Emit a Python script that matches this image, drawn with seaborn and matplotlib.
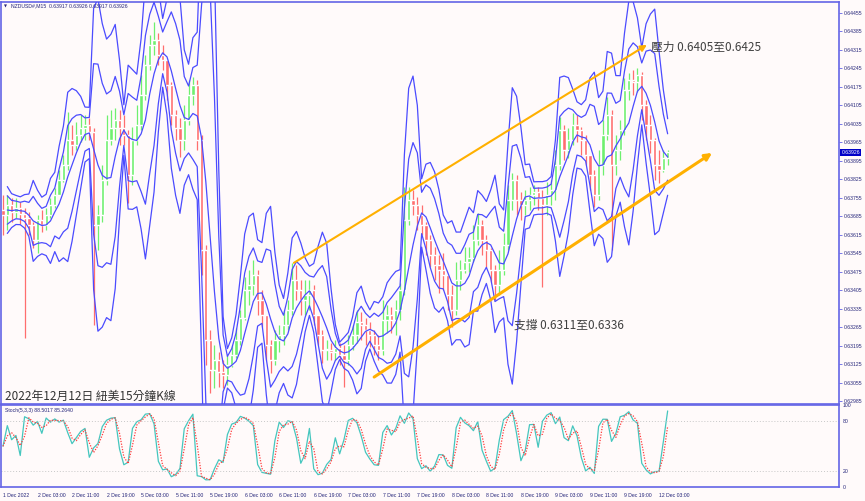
import numpy as np
import pandas as pd
import matplotlib
matplotlib.use("Agg")
import matplotlib.pyplot as plt
import matplotlib.transforms as mtransforms
import seaborn as sns

# --- DATA (hourly bars, prices in 1e-5) ---
header_text = "NZDUSD#,M15  0.63917 0.63926 0.63917 0.63926"
stoch_text = "Stoch(5,3,3) 88.5017 85.2640"
title_text = "2022年12月12日 紐美15分鐘K線"
resist_text = "壓力 0.6405至0.6425"
support_text = "支撐 0.6311至0.6336"

first_open = 63708
closes = [63689, 63727, 63701, 63716, 63693, 63678, 63652, 63595, 63670, 63652,
          63689, 63727, 63765, 63822, 63879, 63973, 63954, 63992, 64019, 64030,
          64003, 63652, 63689, 63822, 63973, 64019, 64049, 64019, 63992, 63841,
          63973, 64030, 64144, 64257, 64333, 64352, 64295, 64276, 64181, 64068,
          64019, 63973, 64049, 64144, 64181, 63973, 63557, 63216, 63103, 63141,
          63095, 63084, 63122, 63160, 63216, 63300, 63406, 63425, 63462, 63368,
          63311, 63198, 63141, 63216, 63235, 63273, 63330, 63444, 63406, 63368,
          63387, 63406, 63311, 63235, 63179, 63179, 63171, 63186, 63160, 63141,
          63198, 63235, 63285, 63273, 63254, 63235, 63198, 63179, 63292, 63311,
          63292, 63330, 63406, 63670, 63746, 63727, 63689, 63652, 63595, 63538,
          63500, 63481, 63462, 63387, 63330, 63444, 63481, 63512, 63527, 63595,
          63652, 63595, 63557, 63481, 63425, 63481, 63576, 63746, 63822, 63746,
          63727, 63746, 63765, 63776, 63754, 63727, 63765, 63784, 63879, 64011,
          63935, 63973, 64030, 64011, 63973, 63916, 63841, 63765, 63879, 63992,
          64068, 63879, 63935, 64011, 64162, 64200, 64193, 64219, 64106, 64030,
          63973, 63879, 63860, 63905, 63926]
highs = [63765, 63765, 63754, 63754, 63739, 63716, 63701, 63663, 63689, 63708,
         63716, 63754, 63792, 63860, 63916, 64079, 64030, 64041, 64068, 64068,
         64057, 64019, 63727, 63879, 64068, 64087, 64094, 64087, 64068, 64011,
         64022, 64106, 64219, 64295, 64371, 64420, 64378, 64333, 64276, 64193,
         64087, 64057, 64106, 64200, 64212, 64200, 63992, 63576, 63254, 63198,
         63171, 63141, 63160, 63198, 63262, 63330, 63455, 63481, 63519, 63481,
         63406, 63311, 63216, 63254, 63273, 63330, 63368, 63508, 63500, 63444,
         63444, 63444, 63425, 63311, 63254, 63216, 63205, 63216, 63205, 63198,
         63235, 63273, 63330, 63322, 63300, 63285, 63254, 63235, 63368, 63349,
         63341, 63368, 63432, 63795, 63795, 63784, 63758, 63727, 63663, 63614,
         63568, 63538, 63546, 63462, 63425, 63512, 63519, 63568, 63568, 63652,
         63697, 63670, 63614, 63565, 63500, 63557, 63621, 63803, 63848, 63841,
         63776, 63784, 63795, 63803, 63795, 63784, 63814, 63822, 63935, 64060,
         64030, 64019, 64075, 64068, 64022, 63992, 63916, 63860, 63935, 64049,
         64136, 64087, 63992, 64049, 64208, 64227, 64238, 64246, 64231, 64125,
         64068, 63981, 63935, 63935, 63935]
lows = [63614, 63633, 63663, 63678, 63655, 63224, 63614, 63565, 63546, 63625,
        63633, 63678, 63716, 63765, 63814, 63860, 63916, 63935, 63966, 63973,
        63973, 63273, 63557, 63663, 63803, 63954, 63973, 63954, 63954, 63735,
        63803, 63954, 64011, 64125, 64238, 64295, 64257, 64238, 64125, 64030,
        63973, 63909, 63935, 64030, 64106, 63935, 63462, 63122, 63016, 63035,
        63039, 63035, 63046, 63114, 63148, 63198, 63292, 63349, 63387, 63311,
        63266, 63141, 63092, 63122, 63171, 63198, 63254, 63311, 63368, 63311,
        63311, 63330, 63273, 63198, 63129, 63141, 63141, 63141, 63122, 63039,
        63122, 63179, 63205, 63216, 63198, 63190, 63160, 63141, 63160, 63243,
        63243, 63235, 63292, 63387, 63652, 63689, 63633, 63614, 63538, 63493,
        63444, 63394, 63406, 63330, 63266, 63311, 63406, 63470, 63474, 63512,
        63576, 63538, 63493, 63436, 63368, 63387, 63462, 63557, 63708, 63689,
        63670, 63689, 63708, 63727, 63708, 63417, 63689, 63727, 63746, 63860,
        63898, 63905, 63954, 63966, 63916, 63879, 63784, 63720, 63746, 63841,
        63973, 63557, 63841, 63898, 63992, 64125, 64144, 64155, 64049, 63973,
        63924, 63822, 63811, 63852, 63879]

time_labels = ["1 Dec 2022", "2 Dec 03:00", "2 Dec 11:00", "2 Dec 19:00",
               "5 Dec 03:00", "5 Dec 11:00", "5 Dec 19:00", "6 Dec 03:00",
               "6 Dec 11:00", "6 Dec 19:00", "7 Dec 03:00", "7 Dec 11:00",
               "7 Dec 19:00", "8 Dec 03:00", "8 Dec 11:00", "8 Dec 19:00",
               "9 Dec 03:00", "9 Dec 11:00", "9 Dec 19:00", "12 Dec 03:00"]
bars_per_label = 8

price_labels = ["0.64455", "0.64385", "0.64315", "0.64245", "0.64175", "0.64105",
                "0.64035", "0.63965", "0.63895", "0.63825", "0.63755", "0.63685",
                "0.63615", "0.63545", "0.63475", "0.63405", "0.63335", "0.63265",
                "0.63195", "0.63125", "0.63055", "0.62985"]
last_price = "0.63926"
stoch_levels = [100, 80, 20, 0]

# trend channel drawn on the chart (bar index, price)
upper_line_bars = [67.4, 149.2]
upper_line_prices = [0.63508, 0.64333]
lower_line_bars = [86.0, 164.3]
lower_line_prices = [0.63076, 0.63924]
resist_pos = (150.1, 0.64325)
support_pos = (118.4, 0.63273)

# --- STYLE ---
sns.set_style("white")
plt.rcParams["font.family"] = ["Liberation Sans", "DejaVu Sans"]
BG = "#fffafa"
FRAME = "#6464e6"
NAVY = "#24247a"
BAND = "#4b4bff"
UP = "#6ef06e"
DOWN = "#ff6e6e"
ORANGE = "#ffb000"
CJK = ["Noto Sans CJK TC", "DejaVu Sans"]

df = pd.DataFrame({"close": closes, "high": highs, "low": lows}) / 1e5
df["open"] = [first_open / 1e5] + list(df["close"][:-1])
df["bar"] = np.arange(len(df))
up = df["close"] >= df["open"]

# Bollinger style bands
mid = df["close"].rolling(5, min_periods=2).mean()
sd = df["close"].rolling(5, min_periods=2).std()

# Stochastic (shorter windows since the bars are hourly)
ll = df["low"].rolling(3, min_periods=1).min()
hh = df["high"].rolling(3, min_periods=1).max()
stoch_main = 100 * (df["close"] - ll) / (hh - ll)
stoch_sig = stoch_main.rolling(2, min_periods=1).mean()

fig = plt.figure(figsize=(8.65, 5.01), dpi=100, facecolor=BG)
ax = fig.add_axes([1 / 865, 1 - 404 / 501, 838 / 865, 402 / 501])
ax2 = fig.add_axes([1 / 865, 1 - 487 / 501, 838 / 865, 82 / 501])
for a in (ax, ax2):
    a.set_facecolor(BG)
    for s in a.spines.values():
        s.set_color(FRAME)
        s.set_linewidth(1.2)
    a.set_xlim(-0.46, 193.7)

# candles
ax.vlines(df["bar"], df["low"], df["high"], colors=np.where(up, UP, DOWN), lw=0.9, zorder=2)
body = (df["close"] - df["open"]).where(lambda s: s.abs() > 0.00002, 0.00002)
ax.bar(df["bar"], body, bottom=df["open"], width=0.75, color=np.where(up, UP, DOWN), zorder=2)

# bands
for k in (-3.3, -2, 0, 2, 3.3):
    sns.lineplot(x=df["bar"], y=mid + k * sd, ax=ax, color=BAND, lw=0.9, zorder=3)

ax.set_ylim(0.62974, 0.64495)
ax.set_xlabel("")
ax.set_ylabel("")
ax.set_xticks([])
ax.yaxis.tick_right()
ax.set_yticks([float(p) for p in price_labels])
ax.set_yticklabels(price_labels)
ax.tick_params(axis="y", length=2, width=0.6, color=FRAME, labelsize=3.7,
               labelcolor=NAVY, pad=1.5)

# current price tag
trans = mtransforms.blended_transform_factory(ax.transAxes, ax.transData)
ax.text(1.003, float(last_price), last_price, transform=trans, fontsize=3.7, color="white",
        va="center", ha="left", zorder=6,
        bbox=dict(boxstyle="square,pad=0.25", fc="#0000c8", ec="none"))

# trend channel
ax.annotate("", xy=(upper_line_bars[1], upper_line_prices[1]),
            xytext=(upper_line_bars[0], upper_line_prices[0]),
            arrowprops=dict(arrowstyle="-|>", color=ORANGE, lw=1.5, mutation_scale=9,
                            shrinkA=0, shrinkB=0), zorder=5)
ax.annotate("", xy=(lower_line_bars[1], lower_line_prices[1]),
            xytext=(lower_line_bars[0], lower_line_prices[0]),
            arrowprops=dict(arrowstyle="-|>", color=ORANGE, lw=2.2, mutation_scale=10,
                            shrinkA=0, shrinkB=0), zorder=5)
ax.text(resist_pos[0], resist_pos[1], resist_text, family=CJK, fontsize=8.5,
        color="#404040", va="center", ha="left", zorder=6)
ax.text(support_pos[0], support_pos[1], support_text, family=CJK, fontsize=8.5,
        color="#404040", va="center", ha="left", zorder=6)
ax.text(0.005, 0.004, title_text, family=CJK, fontsize=8.5, color="#333333",
        transform=ax.transAxes, va="bottom", ha="left", zorder=6)
ax.text(0.004, 0.99, "\u25bc", transform=ax.transAxes, fontsize=2.8, color=NAVY,
        family=["DejaVu Sans"], va="center", ha="left")
ax.text(0.012, 0.99, header_text, transform=ax.transAxes, fontsize=3.7, color=NAVY,
        va="center", ha="left")

# stochastic panel
sns.lineplot(x=df["bar"], y=stoch_main, ax=ax2, color="#45c6be", lw=0.9)
sns.lineplot(x=df["bar"], y=stoch_sig, ax=ax2, color="#ff3b3b", lw=0.9, linestyle=(0, (1, 1.2)))
for lvl in (80, 20):
    ax2.axhline(lvl, color="#c8c8c8", lw=0.7, ls=(0, (1, 2)))
ax2.set_ylim(0, 100)
ax2.set_xlabel("")
ax2.set_ylabel("")
ax2.yaxis.tick_right()
ax2.set_yticks(stoch_levels)
ax2.set_yticklabels([str(v) for v in stoch_levels])
ax2.tick_params(axis="y", length=0, labelsize=3.7, labelcolor=NAVY, pad=2.5)
ax2.set_xticks([i * bars_per_label for i in range(len(time_labels))])
ax2.set_xticklabels(time_labels)
ax2.tick_params(axis="x", length=2, width=0.6, color=FRAME, labelsize=3.7,
                labelcolor=NAVY, pad=2)
for lbl in ax2.get_xticklabels():
    lbl.set_horizontalalignment("left")
ax2.text(0.005, 0.93, stoch_text, transform=ax2.transAxes, fontsize=3.7, color=NAVY,
         va="center", ha="left")

fig.savefig("out.png", dpi=100, facecolor=BG)
